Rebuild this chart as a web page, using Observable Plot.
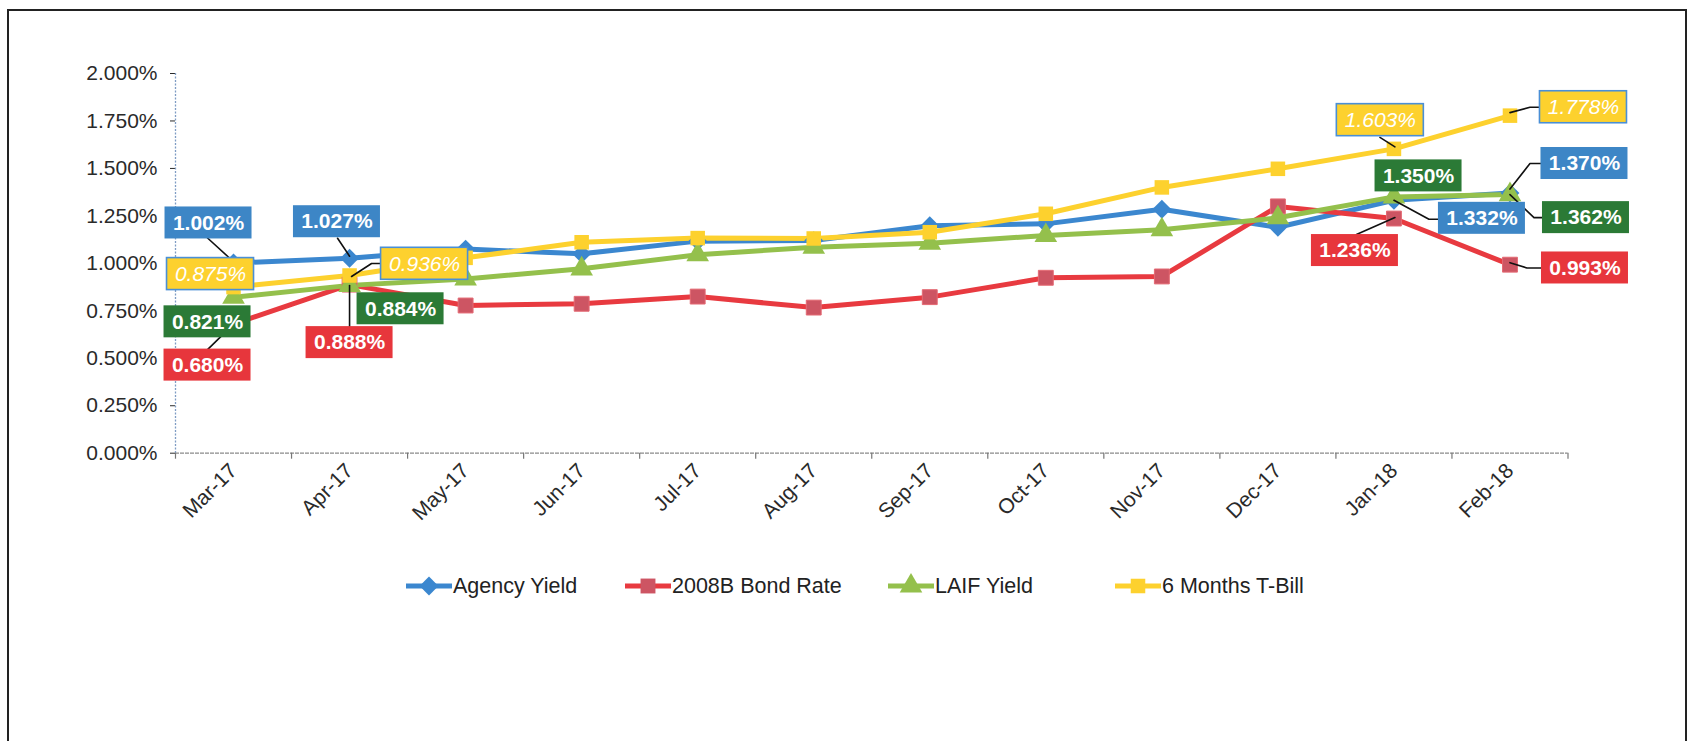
<!DOCTYPE html>
<html><head><meta charset="utf-8">
<script src="https://cdn.jsdelivr.net/npm/d3@7"></script>
<script src="https://cdn.jsdelivr.net/npm/@observablehq/plot@0.6"></script>
<style>
html,body{margin:0;padding:0;background:#fff;}
body{font-family:"Liberation Sans",Arial,sans-serif;overflow:hidden;}
#wrap{position:relative;width:1692px;height:741px;overflow:hidden;}
#chart svg{display:block;}
#frame{position:absolute;left:7px;top:9px;width:1676px;height:740px;border:2px solid #222;pointer-events:none;}
#legend{position:absolute;top:570px;left:0;width:1692px;height:32px;}
.item{position:absolute;top:0;height:32px;display:flex;align-items:center;font-size:21.5px;color:#222;white-space:nowrap;}
.item svg{display:block;}
</style></head><body>
<div id="wrap"><div id="chart"></div><div id="legend"></div><div id="frame"></div></div>
<script>
// ---- data ----
const months = ["Mar-17","Apr-17","May-17","Jun-17","Jul-17","Aug-17","Sep-17","Oct-17","Nov-17","Dec-17","Jan-18","Feb-18"];
const seriesNames = ["Agency Yield","2008B Bond Rate","LAIF Yield","6 Months T-Bill"];
const agencyYield = [1.002,1.027,1.075,1.050,1.117,1.120,1.198,1.208,1.285,1.190,1.332,1.370];
const bondRate    = [0.680,0.888,0.778,0.787,0.825,0.767,0.822,0.924,0.931,1.300,1.236,0.993];
const laifYield   = [0.821,0.884,0.918,0.971,1.045,1.085,1.106,1.147,1.177,1.240,1.350,1.362];
const tBill       = [0.875,0.936,1.029,1.111,1.133,1.131,1.164,1.261,1.400,1.498,1.603,1.778];
const yTicks = [0,0.25,0.5,0.75,1,1.25,1.5,1.75,2];

// ---- styles ----
const seriesValues = [agencyYield, bondRate, laifYield, tBill];
const lineColors  = ["#3b87cf","#e83a40","#94c04c","#fdd12e"];
const markerFills = ["#3b87cf","#cd5563","#94c04c","#fdd12e"];
const symbols     = ["diamond2","square","triangle","square"];
const markerR     = [8.5,8.4,8.4,8.2];
const boxFills    = ["#3d86c6","#e7363c","#2b7a36","#fdd12e"];
const boxStroke   = [null,null,null,"#4a8fd6"];
const textStyle   = [["bold","normal"],["bold","normal"],["bold","normal"],["normal","italic"]];

// label layout: series, month index, box centre offset (px) from the point, optional leader path (px offsets)
const labelLayout = [
  {s:0,i:0,dx:-25,dy:-40,leader:[[-26,-25],[-3,-4]]},
  {s:3,i:0,dx:-23,dy:-13},
  {s:2,i:0,dx:-26,dy:24.5},
  {s:1,i:0,dx:-26,dy:41,leader:[[-26,25.5],[0,0]]},
  {s:0,i:1,dx:-12.6,dy:-36.5,leader:[[-12,-20],[0,-2]]},
  {s:3,i:1,dx:75,dy:-11.7,leader:[[2,1],[22,-12],[32,-12]]},
  {s:2,i:1,dx:51,dy:23.4},
  {s:1,i:1,dx:0,dy:58,leader:[[0,43],[0,1]]},
  {s:3,i:10,dx:-13.6,dy:-28.7,leader:[[-14,-11.5],[1,-2]]},
  {s:2,i:10,dx:24.6,dy:-21},
  {s:0,i:10,dx:88,dy:18,leader:[[0,0],[35,19],[44,19]]},
  {s:1,i:10,dx:-39,dy:32,leader:[[-37.5,16],[1,-1]]},
  {s:3,i:11,dx:73.5,dy:-8.4,leader:[[0,-3],[20,-8.4],[30,-8.4]]},
  {s:0,i:11,dx:74.5,dy:-29.6,leader:[[0,-4],[20,-29.6],[31,-29.6]]},
  {s:2,i:11,dx:76,dy:23,leader:[[0,0],[24,23],[33,23]]},
  {s:1,i:11,dx:75,dy:3.3,leader:[[0,-2],[17,3.3],[31,3.3]]}
];

const W = 1692, H = 540, mL = 175, mR = 124.5, mT = 73, mB = 87.3;
const kx = months.length / (W - mL - mR);
const ky = 2 / (H - mT - mB);
const BW = 87, BH = 32;

const xi = i => i + 0.5;
const rows = seriesValues.map((vals, s) => vals.map((v, i) => ({s, i, v})));

const labels = labelLayout.map((L, k) => {
  const v = seriesValues[L.s][L.i];
  const cx = xi(L.i) + L.dx * kx, cy = v - L.dy * ky;
  return {k, s: L.s, cx, cy, text: v.toFixed(3) + "%",
    x1: cx - BW/2*kx, x2: cx + BW/2*kx, y1: cy - BH/2*ky, y2: cy + BH/2*ky};
});
const leaders = [];
labelLayout.forEach((L, k) => {
  if (!L.leader) return;
  const v = seriesValues[L.s][L.i];
  L.leader.forEach(([ox, oy]) => leaders.push({k, x: xi(L.i) + ox * kx, y: v - oy * ky}));
});

const marks = [
  Plot.ruleY([0], {stroke: "#8a8a8a", strokeWidth: 1.3, strokeDasharray: "4,1"}),
  Plot.ruleX([0], {stroke: "#7f9cc4", strokeWidth: 1.3, strokeDasharray: "2,1.5"}),
  Plot.ruleX(d3.range(months.length + 1), {y1: 0, y2: -6 * ky, stroke: "#777", strokeWidth: 1.2})
];
rows.forEach((r, s) => {
  marks.push(Plot.line(r, {x: d => xi(d.i), y: "v", stroke: lineColors[s], strokeWidth: 5}));
});
rows.forEach((r, s) => {
  marks.push(Plot.dot(r, {x: d => xi(d.i), y: "v", symbol: symbols[s], r: markerR[s], fill: markerFills[s], stroke: s === 1 ? "#e46a74" : "none", strokeWidth: 1}));
});
marks.push(Plot.line(leaders, {x: "x", y: "y", z: "k", stroke: "#111", strokeWidth: 1.6}));
[0,1,2,3].forEach(s => {
  const ls = labels.filter(d => d.s === s);
  marks.push(Plot.rect(ls, {x1: "x1", x2: "x2", y1: "y1", y2: "y2", fill: boxFills[s], stroke: boxStroke[s] || "none", strokeWidth: 1.6}));
  marks.push(Plot.text(ls, {x: "cx", y: "cy", text: "text", fill: "white", fontSize: 21, fontWeight: textStyle[s][0], fontStyle: textStyle[s][1]}));
});

const chart = Plot.plot({
  width: W, height: H,
  marginLeft: mL, marginRight: mR, marginTop: mT, marginBottom: mB,
  style: {fontFamily: "'Liberation Sans', Arial, sans-serif", fontSize: "21px", color: "#2a2a2a", background: "white", overflow: "visible"},
  x: {type: "linear", domain: [0, months.length], ticks: months.map((m, i) => xi(i)), tickFormat: d => months[Math.round(d - 0.5)], tickRotate: -45, tickSize: 0, tickPadding: 14, label: null},
  y: {domain: [0, 2], ticks: yTicks, tickFormat: d => d.toFixed(3) + "%", tickSize: 5, tickPadding: 13, label: null},
  marks
});
document.getElementById("chart").appendChild(chart);

// ---- legend ----
const legendLeft = [405, 624, 887, 1114];
const symTypes = {diamond2: d3.symbolDiamond2 || d3.symbolDiamond, square: d3.symbolSquare, triangle: d3.symbolTriangle};
const legend = document.getElementById("legend");
seriesNames.forEach((name, s) => {
  const item = document.createElement("div");
  item.className = "item";
  item.style.left = legendLeft[s] + "px";
  const r = markerR[s];
  const path = d3.symbol().type(symTypes[symbols[s]]).size(Math.PI * r * r)();
  item.innerHTML = `<svg width="48" height="32"><line x1="1" x2="47" y1="16" y2="16" stroke="${lineColors[s]}" stroke-width="5"/><path d="${path}" transform="translate(24,16)" fill="${markerFills[s]}"/></svg><span>${name}</span>`;
  legend.appendChild(item);
});
</script>
</body></html>
